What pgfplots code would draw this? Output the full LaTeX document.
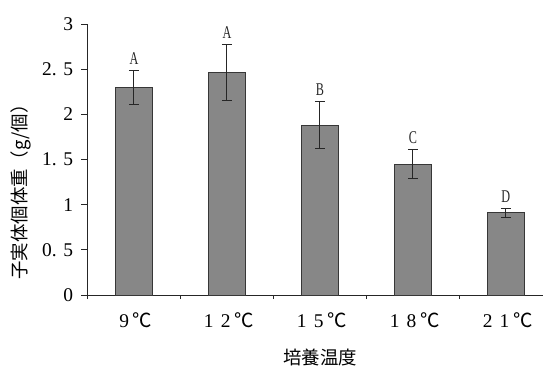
\documentclass[border=0pt]{standalone}
\usepackage{fontspec}
\setmainfont{Liberation Serif}
\newfontfamily\cjk{Noto Sans CJK JP}
\newfontfamily\condfont[FakeStretch=0.68]{Liberation Serif}
\usepackage{pgfplots}
\usepackage{pgfplotstable}
\pgfplotsset{compat=1.18}
\definecolor{barfill}{RGB}{135,135,135}
\definecolor{bardraw}{RGB}{55,55,55}
\pgfplotstableread{
x y e top lab
0 2.30 0.19 2.49 A
1 2.46 0.31 2.77 A
2 1.88 0.26 2.14 B
3 1.45 0.16 1.61 C
4 0.91 0.05 0.96 D
}\datatable
\newcommand{\fw}[1]{\makebox[0.87em]{#1}}
\begin{document}
\begin{tikzpicture}[x=1bp,y=1bp]
\useasboundingbox (0,0) rectangle (543,367);
\begin{axis}[
  at={(87.5bp,72bp)}, anchor=south west,
  scale only axis, width=455.5bp, height=271bp,
  xmin=-0.5, xmax=4.4, ymin=0, ymax=3,
  axis lines*=left,
  axis line style={line width=1bp, black!85},
  clip=false,
  tick align=outside,
  xtick={0,1,2,3,4},
  xticklabels={{\fw{9}{\cjk ℃}},{\fw{1}\fw{2}{\cjk ℃}},{\fw{1}\fw{5}{\cjk ℃}},{\fw{1}\fw{8}{\cjk ℃}},{\fw{2}\fw{1}{\cjk ℃}}},
  major x tick style={draw=none},
  minor xtick={-0.5,0.5,1.5,2.5,3.5},
  minor x tick style={line width=1bp, black!85},
  minor tick length=4bp,
  major tick length=6.5bp,
  ytick={0,0.5,1,1.5,2,2.5,3},
  yticklabels={0,0. 5,1,1. 5,2,2. 5,3},
  major y tick style={line width=1bp, black!85},
  x tick label style={font=\fontsize{19.5}{19.5}\selectfont, anchor=center, yshift=-19bp},
  y tick label style={font=\fontsize{19.5}{19.5}\selectfont, xshift=-4.5bp},
  xlabel={\cjk 培養温度},
  xlabel style={at={(axis description cs:0.511,-0.232)}, anchor=center, font=\fontsize{18.5}{18.5}\selectfont},
  ylabel={\cjk 子実体個体重（g/個）},
  ylabel style={at={(axis description cs:-0.146,0.397)}, anchor=center, font=\fontsize{18.5}{18.5}\selectfont},
]
\addplot[ybar, bar width=37.5bp, bar shift=0pt, fill=barfill, draw=bardraw, line width=1bp,
  error bars/.cd, y dir=both, y explicit,
  error bar style={line width=1bp, black!85},
  error mark options={rotate=90, mark size=5bp, line width=1bp, black!85}]
  table[x=x, y=y, y error=e] {\datatable};
\addplot[draw=none, mark=none, nodes near coords, point meta=explicit symbolic,
  nodes near coords style={font=\condfont\fontsize{18}{18}\selectfont, anchor=south, yshift=2.5bp, black!85}]
  table[x=x, y=top, meta=lab] {\datatable};
\end{axis}
\end{tikzpicture}
\end{document}
